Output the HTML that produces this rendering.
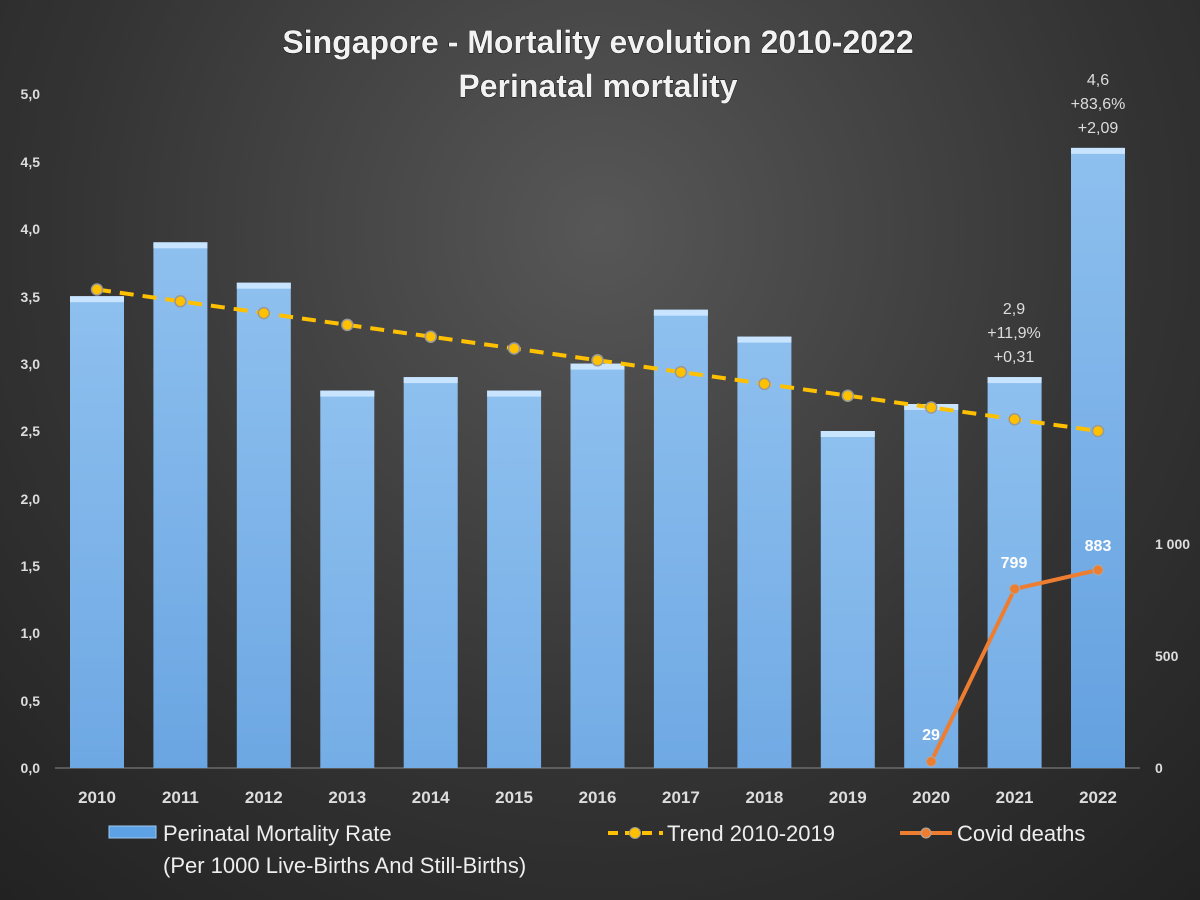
<!DOCTYPE html>
<html><head><meta charset="utf-8"><style>html,body{margin:0;width:1200px;height:900px;overflow:hidden}svg{display:block}text{font-family:"Liberation Sans",sans-serif}</style></head><body>
<svg width="1200" height="900" viewBox="0 0 1200 900">
<defs>
<radialGradient id="bg" cx="600" cy="230" r="900" gradientUnits="userSpaceOnUse"><stop offset="0" stop-color="#575757"/><stop offset="0.6" stop-color="#333"/><stop offset="1" stop-color="#222"/></radialGradient>
<linearGradient id="bar" x1="0" y1="0" x2="0" y2="1"><stop offset="0" stop-color="#8ec0ef"/><stop offset="1" stop-color="#4a8dd6"/></linearGradient>
<g id="b"><rect x="-27" y="0" width="54" height="1000" fill="url(#bar)"/><rect x="-27" y="0" width="54" height="6" fill="#c8e4ff"/></g>
</defs>
<rect width="1200" height="900" fill="url(#bg)"/>
<line x1="55" y1="768" x2="1140" y2="768" stroke="#888" stroke-width="1"/>
<g font-size="14" fill="#ddd" text-anchor="end" font-weight="bold">
<text x="40" y="773">0,0</text><text x="40" y="706">0,5</text><text x="40" y="638">1,0</text><text x="40" y="571">1,5</text><text x="40" y="504">2,0</text><text x="40" y="436">2,5</text><text x="40" y="369">3,0</text><text x="40" y="302">3,5</text><text x="40" y="234">4,0</text><text x="40" y="167">4,5</text><text x="40" y="99">5,0</text>
</g>
<g font-size="14" fill="#ddd" font-weight="bold"><text x="1155" y="773">0</text><text x="1155" y="661">500</text><text x="1155" y="549">1 000</text></g>
<svg x="0" y="0" width="1200" height="768" overflow="hidden">
<use href="#b" x="97" y="296.2"/><use href="#b" x="180.4" y="242.3"/><use href="#b" x="263.8" y="282.7"/><use href="#b" x="347.3" y="390.6"/><use href="#b" x="430.7" y="377.1"/><use href="#b" x="514.1" y="390.6"/><use href="#b" x="597.5" y="363.6"/><use href="#b" x="680.9" y="309.7"/><use href="#b" x="764.4" y="336.6"/><use href="#b" x="847.8" y="431"/><use href="#b" x="931.2" y="404"/><use href="#b" x="1014.6" y="377.1"/><use href="#b" x="1098" y="147.9"/>
</svg>
<polyline points="97,289.5 1098,431" fill="none" stroke="#ffc000" stroke-width="4" stroke-dasharray="14,9"/>
<g fill="#ffc000" stroke="#999" stroke-width="1.5">
<circle cx="97" cy="289.5" r="5.5"/><circle cx="180.4" cy="301.3" r="5.5"/><circle cx="263.8" cy="313.1" r="5.5"/><circle cx="347.3" cy="324.9" r="5.5"/><circle cx="430.7" cy="336.7" r="5.5"/><circle cx="514.1" cy="348.5" r="5.5"/><circle cx="597.5" cy="360.3" r="5.5"/><circle cx="680.9" cy="372.1" r="5.5"/><circle cx="764.4" cy="383.9" r="5.5"/><circle cx="847.8" cy="395.7" r="5.5"/><circle cx="931.2" cy="407.5" r="5.5"/><circle cx="1014.6" cy="419.3" r="5.5"/><circle cx="1098" cy="431" r="5.5"/>
</g>
<polyline points="931.2,761.5 1014.6,589 1098,570" fill="none" stroke="#ed7d31" stroke-width="4"/>
<g fill="#ed7d31" stroke="#aaa" stroke-width="1"><circle cx="931.2" cy="761.5" r="5"/><circle cx="1014.6" cy="589" r="5"/><circle cx="1098" cy="570" r="5"/></g>
<g font-size="16" fill="#fff" font-weight="bold" text-anchor="middle"><text x="931" y="740">29</text><text x="1014" y="568">799</text><text x="1098" y="551">883</text></g>
<g font-size="16" fill="#ddd" text-anchor="middle">
<text x="1014" y="314">2,9</text><text x="1014" y="338">+11,9%</text><text x="1014" y="362">+0,31</text>
<text x="1098" y="85">4,6</text><text x="1098" y="109">+83,6%</text><text x="1098" y="133">+2,09</text>
</g>
<g font-size="17" fill="#ddd" text-anchor="middle" font-weight="bold">
<text x="97" y="803">2010</text><text x="180.4" y="803">2011</text><text x="263.8" y="803">2012</text><text x="347.3" y="803">2013</text><text x="430.7" y="803">2014</text><text x="514.1" y="803">2015</text><text x="597.5" y="803">2016</text><text x="680.9" y="803">2017</text><text x="764.4" y="803">2018</text><text x="847.8" y="803">2019</text><text x="931.2" y="803">2020</text><text x="1014.6" y="803">2021</text><text x="1098" y="803">2022</text>
</g>
<g font-size="32" fill="#f2f2f2" font-weight="bold" text-anchor="middle" stroke="#000" stroke-width="0.8" paint-order="stroke">
<text x="598" y="53">Singapore - Mortality evolution 2010-2022</text>
<text x="598" y="97">Perinatal mortality</text>
</g>
<rect x="109" y="826" width="47" height="12" fill="#5ea2e6" stroke="#9cc8f0"/>
<g font-size="22" fill="#eee">
<text x="163" y="841">Perinatal Mortality Rate</text>
<text x="163" y="873">(Per 1000 Live-Births And Still-Births)</text>
<text x="667" y="841">Trend 2010-2019</text>
<text x="957" y="841">Covid deaths</text>
</g>
<line x1="608" y1="833" x2="663" y2="833" stroke="#ffc000" stroke-width="4" stroke-dasharray="10,7"/>
<circle cx="635" cy="833" r="5.5" fill="#ffc000" stroke="#999"/>
<line x1="900" y1="833" x2="952" y2="833" stroke="#ed7d31" stroke-width="4"/>
<circle cx="926" cy="833" r="5" fill="#ed7d31" stroke="#aaa"/>
</svg>
</body></html>
